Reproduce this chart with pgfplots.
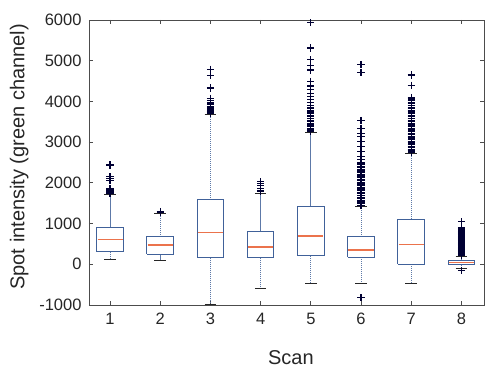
\documentclass[border=0pt]{standalone}
\usepackage{pgfplots}
\pgfplotsset{compat=1.18}
\usepackage{fontspec}
\setmainfont{Liberation Sans}
\definecolor{boxblue}{rgb}{0.25,0.38,0.6}
\definecolor{medred}{rgb}{0.92,0.45,0.3}
\definecolor{axgray}{rgb}{0.3,0.3,0.3}
\definecolor{txtgray}{rgb}{0.15,0.15,0.15}
\begin{document}
\begin{tikzpicture}
\begin{axis}[
  scale only axis, width=395pt, height=285pt,
  xmin=0.58, xmax=8.45, ymin=-1000, ymax=6000,
  xtick={1,...,8}, ytick={-1000,0,1000,2000,3000,4000,5000,6000},
  tick align=inside, tick pos=both, major tick length=4pt,
  axis line style={axgray, line width=0.8pt},
  tick style={axgray, line width=0.8pt},
  tick label style={font=\fontsize{16.5}{19}\selectfont, text=txtgray},
  /pgf/number format/assume math mode=true,
  /pgf/number format/1000 sep={},
  label style={font=\fontsize{20}{24}\selectfont, text=txtgray},
  xlabel={Scan}, ylabel={Spot intensity (green channel)},
  xlabel style={at={(axis description cs:0.511,-0.183)}, anchor=center},
  ylabel style={at={(axis description cs:-0.177,0.52)}, anchor=center},
  yticklabel style={xshift=-4pt},
  xticklabel style={yshift=-4.5pt},
  unbounded coords=jump,
  clip=false,
]
\coordinate (sw) at (rel axis cs:0,0);
\coordinate (ne) at (rel axis cs:1,1);
% whiskers (dashed)
\addplot[boxblue!85, line width=0.9pt, dash pattern=on 1.2pt off 0.8pt, no marks] coordinates {
(1,900) (1,1720) (1,nan) (1,310) (1,120) (1,nan)
(2,671) (2,1250) (2,nan) (2,245) (2,105) (2,nan)
(3,1579) (3,3680) (3,nan) (3,162) (3,-990) (3,nan)
(4,801) (4,1740) (4,nan) (4,162) (4,-600) (4,nan)
(5,1415) (5,3240) (5,nan) (5,204) (5,-467) (5,nan)
(6,671) (6,1415) (6,nan) (6,172) (6,-467) (6,nan)
(7,1112) (7,2710) (7,nan) (7,0) (7,-467) (7,nan)
(8,88) (8,187) (8,nan) (8,-17) (8,-100)
};
% boxes
\addplot[boxblue, line width=1.0pt, line join=miter, no marks] coordinates {
(0.735,310) (1.265,310) (1.265,900) (0.735,900) (0.735,310) (1,nan)
(1.735,245) (2.265,245) (2.265,671) (1.735,671) (1.735,245) (2,nan)
(2.735,162) (3.265,162) (3.265,1579) (2.735,1579) (2.735,162) (3,nan)
(3.735,162) (4.265,162) (4.265,801) (3.735,801) (3.735,162) (4,nan)
(4.735,204) (5.265,204) (5.265,1415) (4.735,1415) (4.735,204) (5,nan)
(5.735,172) (6.265,172) (6.265,671) (5.735,671) (5.735,172) (6,nan)
(6.735,0) (7.265,0) (7.265,1112) (6.735,1112) (6.735,0) (7,nan)
(7.735,-17) (8.265,-17) (8.265,88) (7.735,88) (7.735,-17)
};
% medians
\addplot[medred, line width=1.2pt, no marks] coordinates {
(0.75,600) (1.25,600) (1,nan)
(1.75,474) (2.25,474) (2,nan)
(2.75,777) (3.25,777) (3,nan)
(3.75,425) (4.25,425) (4,nan)
(4.75,695) (5.25,695) (5,nan)
(5.75,352) (6.25,352) (6,nan)
(6.75,491) (7.25,491) (7,nan)
(7.75,35) (8.25,35)
};
% whisker caps
\addplot[black!85, line width=0.9pt, no marks] coordinates {
(0.885,120) (1.115,120) (1,nan) (0.885,1720) (1.115,1720) (1,nan)
(1.885,105) (2.115,105) (2,nan) (1.885,1250) (2.115,1250) (2,nan)
(2.885,-990) (3.115,-990) (3,nan) (2.885,3680) (3.115,3680) (3,nan)
(3.885,-600) (4.115,-600) (4,nan) (3.885,1740) (4.115,1740) (4,nan)
(4.885,-467) (5.115,-467) (5,nan) (4.885,3240) (5.115,3240) (5,nan)
(5.885,-467) (6.115,-467) (6,nan) (5.885,1415) (6.115,1415) (6,nan)
(6.885,-467) (7.115,-467) (7,nan) (6.885,2710) (7.115,2710) (7,nan)
(7.885,-100) (8.115,-100) (8,nan) (7.885,187) (8.115,187)
};
% outliers
\addplot[only marks, mark=+, mark size=3.6pt, mark options={solid, draw=black!80!blue, line width=1.2pt}] coordinates {
(1,1750) (1,1770) (1,1790) (1,1810) (1,1830) (1,1850) (1,2060) (1,2100) (1,2150) (1,2440)
(2,1280) (2,1300)
(3,3700) (3,3720) (3,3740) (3,3760) (3,3780) (3,3800) (3,3820) (3,3840) (3,3870) (3,3920) (3,3960) (3,4030) (3,4080) (3,4330) (3,4640) (3,4790)
(4,1780) (4,1820) (4,1870) (4,1940) (4,1990) (4,2030)
(5,3260) (5,3300) (5,3340) (5,3380) (5,3420) (5,3460) (5,3500) (5,3540) (5,3580) (5,3620) (5,3660) (5,3700) (5,3740) (5,3780) (5,3820) (5,3860) (5,3900) (5,3980) (5,4040) (5,4120) (5,4200) (5,4300) (5,4380) (5,4490) (5,4770) (5,4890) (5,5020) (5,5310) (5,5930)
(6,-820) (6,1450) (6,1490) (6,1530) (6,1570) (6,1610) (6,1650) (6,1690) (6,1730) (6,1770) (6,1810) (6,1850) (6,1890) (6,1930) (6,1970) (6,2010) (6,2050) (6,2090) (6,2130) (6,2170) (6,2210) (6,2250) (6,2290) (6,2330) (6,2370) (6,2410) (6,2450) (6,2490) (6,2570) (6,2650) (6,2770) (6,2890) (6,3010) (6,3130) (6,3220) (6,3340) (6,3530) (6,4710) (6,4910)
(7,2740) (7,2780) (7,2820) (7,2860) (7,2900) (7,2940) (7,2980) (7,3020) (7,3060) (7,3100) (7,3140) (7,3180) (7,3220) (7,3260) (7,3300) (7,3340) (7,3380) (7,3420) (7,3460) (7,3500) (7,3540) (7,3580) (7,3620) (7,3660) (7,3700) (7,3740) (7,3780) (7,3820) (7,3860) (7,3900) (7,3940) (7,3980) (7,4020) (7,4060) (7,4100) (7,4400) (7,4650)
(8,-157) (8,210) (8,240) (8,270) (8,300) (8,330) (8,360) (8,390) (8,420) (8,450) (8,480) (8,510) (8,540) (8,570) (8,600) (8,630) (8,660) (8,690) (8,720) (8,750) (8,780) (8,810) (8,840) (8,870) (8,900) (8,1046)
};
\end{axis}
\pgfresetboundingbox
\path[use as bounding box] ([shift={(-89pt,-63pt)}]sw) rectangle ([shift={(2pt,20pt)}]ne);
\end{tikzpicture}
\end{document}
